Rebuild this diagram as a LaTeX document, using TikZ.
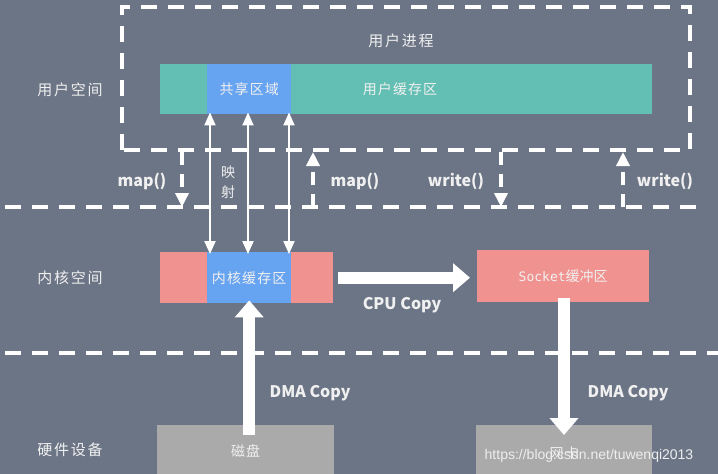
\documentclass[tikz,border=0pt]{standalone}
\usepackage{fontspec}
\setmainfont{Noto Sans CJK SC}
\newfontfamily\monofnt{DejaVu Sans Mono}
\newfontfamily\wmfont{Liberation Sans}
\usetikzlibrary{arrows.meta}
\definecolor{bgc}{RGB}{108,117,133}
\definecolor{cteal}{RGB}{99,191,179}
\definecolor{cblue}{RGB}{102,163,240}
\definecolor{cpink}{RGB}{240,146,143}
\definecolor{cgray}{RGB}{170,170,170}
\definecolor{txt}{RGB}{240,240,240}
\begin{document}
\begin{tikzpicture}[x=1pt,y=-1pt,
  dline/.style={white, line width=3.5pt, dash pattern=on 16pt off 11pt},
  sarrow/.style={white, line width=3.5pt, dash pattern=on 13pt off 9pt, -{Triangle[width=13pt,length=14pt]}},
  dbl/.style={white, line width=2pt, {Triangle[width=11pt,length=13pt]}-{Triangle[width=11pt,length=13pt]}},
  big/.style={white, line width=12pt, -{Triangle[width=28pt,length=17pt]}},
  boxn/.style={inner sep=0pt, anchor=north west, text=txt},
  cjk/.style={text=txt, font=\fontsize{14}{16}\selectfont\addfontfeature{LetterSpace=8}},
  side/.style={text=txt, font=\fontsize{15}{17}\selectfont\addfontfeature{LetterSpace=12}},
  lat/.style={text=txt, font=\fontsize{16}{18}\selectfont\bfseries}
]
\fill[bgc] (0,0) rectangle (718,474);
\useasboundingbox (0,0) rectangle (718,474);

% dashed frames
\draw[dline] (122,150) -- (122,7) -- (690,7) -- (690,150) -- cycle;
\draw[dline] (5,207) -- (701,207);
\draw[dline] (5,353) -- (718,353);

% boxes
\node[boxn, fill=cteal, minimum width=492pt, minimum height=50pt] (ubuf) at (160,64) {};
\node[boxn, fill=cblue, minimum width=84pt, minimum height=50pt] (share) at (207,64) {};
\node[cjk] at (share.center) {共享区域};
\node[cjk] (ubuftxt) at (400,89) {用户缓存区};

\node[boxn, fill=cpink, minimum width=173pt, minimum height=51pt] (kern) at (160,252) {};
\node[boxn, fill=cblue, minimum width=84pt, minimum height=51pt] (kbuf) at (207,252) {};
\node[cjk] at (kbuf.center) {内核缓存区};

\node[boxn, fill=cpink, minimum width=172pt, minimum height=52pt] (sock) at (477,250) {};
\node[text=txt, font=\fontsize{14}{16}\selectfont] at (sock.center) {{\monofnt\fontsize{13}{16}\selectfont Socket}缓冲区};

\node[boxn, fill=cgray, minimum width=177pt, minimum height=49pt] (disk) at (157,425) {};
\node[cjk] at ([yshift=-1pt]disk.center) {磁盘};
\node[boxn, fill=cgray, minimum width=176pt, minimum height=49pt] (nic) at (476,425) {};
\node[cjk] at ([yshift=-3pt]nic.center) {网卡};

% side labels
\node[side] (l1) at (70,90) {用户空间};
\node[side] (l2) at (70,278) {内核空间};
\node[side] (l3) at (70,450) {硬件设备};
\node[side] (l4) at (401,41) {用户进程};

% mapping arrows
\coordinate (c1) at (210,0);
\coordinate (c2) at (248,0);
\coordinate (c3) at (289,0);
\draw[dbl] ([yshift=2pt]share.south -| c1) -- ([yshift=-2pt]kbuf.north -| c1);
\draw[dbl] ([yshift=2pt]share.south -| c2) -- ([yshift=-2pt]kbuf.north -| c2);
\draw[dbl] ([yshift=2pt]share.south -| c3) -- ([yshift=-2pt]kbuf.north -| c3);
\node[cjk, align=center, font=\fontsize{14}{20}\selectfont] (ys) at (228,182) {映\\射};

% small dashed arrows
\coordinate (t1) at (182,152); \coordinate (b1) at (182,207);
\coordinate (t2) at (313,152); \coordinate (b2) at (313,207);
\coordinate (t3) at (501,152); \coordinate (b3) at (501,207);
\coordinate (t4) at (623,152); \coordinate (b4) at (623,207);
\draw[sarrow] (t1) -- (b1);
\draw[sarrow] (b2) -- (t2);
\draw[sarrow] (t3) -- (b3);
\draw[sarrow] (b4) -- (t4);
\node[lat] (m1) at (142,181) {map()};
\node[lat] (m2) at (355,181) {map()};
\node[lat] (w1) at (456,181) {write()};
\node[lat] (w2) at (665,181) {write()};

% thick arrows
\draw[big] ([xshift=5pt]kern.east) -- ([xshift=-7pt]sock.west |- kern.east);
\node[lat] (cpu) at (402,305) {CPU Copy};
\draw[big] ([yshift=-10pt]disk.north -| kbuf.south) -- ([yshift=3pt]kbuf.south);
\node[lat] (dma1) at (310,393) {DMA Copy};
\coordinate (c5) at (564,0);
\draw[big] ([yshift=4pt]sock.south -| c5) -- ([yshift=-10pt]nic.north -| c5);
\node[lat] (dma2) at (628,393) {DMA Copy};

% watermark
\node[text=white!88!bgc, font=\wmfont\fontsize{14}{16}\selectfont] (wm) at (589,456) {https://blog.csdn.net/tuwenqi2013};
\end{tikzpicture}
\end{document}
